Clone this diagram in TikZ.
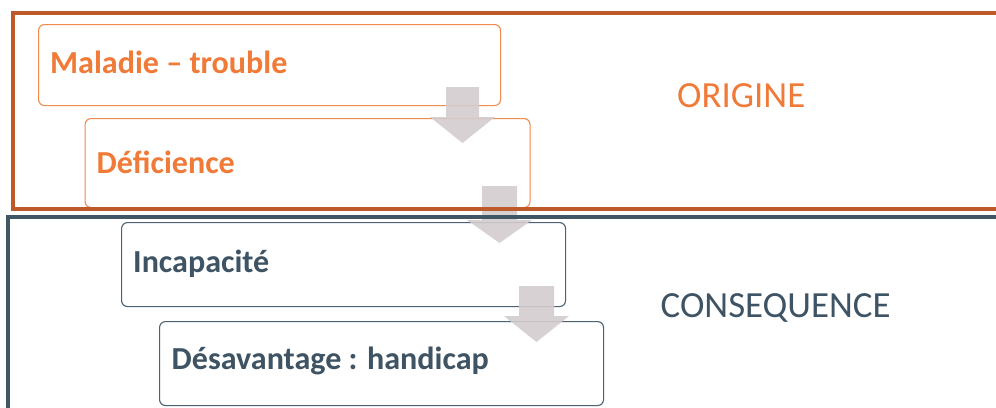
\documentclass[tikz,border=0pt]{standalone}
\usepackage{fontspec}
\setmainfont{Carlito}
\definecolor{orTxt}{HTML}{F07A37}
\definecolor{orBox}{HTML}{F08A4E}
\definecolor{orFrame}{HTML}{BE5A2A}
\definecolor{slTxt}{HTML}{3E5363}
\definecolor{slBox}{HTML}{4C6270}
\definecolor{slFrame}{HTML}{405664}
\definecolor{arr}{HTML}{D4CCCF}
\tikzset{
  stepbox/.style={draw, rounded corners=6bp, line width=1.1bp, inner sep=0pt, anchor=north west},
  orbox/.style={stepbox, draw=orBox},
  slbox/.style={stepbox, draw=slBox},
  steptext/.style={anchor=base west, inner sep=0pt, font=\bfseries\fontsize{32.2}{37}\selectfont},
  frametext/.style={anchor=base west, inner sep=0pt, font=\fontsize{37}{42}\selectfont},
  frameline/.style={line width=4bp},
  flowarrow/.style={fill=arr, fill opacity=0.9, draw=none}
}
\newcommand{\downarr}[6]{% cx, top, headY, tip, halfshaft, halfhead
  \fill[flowarrow] (#1-#5,#2) -- (#1+#5,#2) -- (#1+#5,#3) -- (#1+#6,#3) -- (#1,#4) -- (#1-#6,#3) -- (#1-#5,#3) -- cycle;}
\begin{document}
\begin{tikzpicture}[x=1bp,y=-1bp]
\useasboundingbox (0,0) rectangle (996,407);
\fill[white] (0,0) rectangle (996,407);
% boxes
\node[orbox, minimum width=462bp, minimum height=81bp] (b1) at (38,24) {};
\node[orbox, minimum width=445bp, minimum height=89bp] (b2) at (84.5,118) {};
\node[slbox, minimum width=444bp, minimum height=84bp] (b3) at (121,222) {};
\node[slbox, minimum width=444bp, minimum height=84bp] (b4) at (159,321) {};
% texts
\node[steptext, text=orTxt] (t1) at (50,73) {Maladie – trouble};
\node[steptext, text=orTxt] (t2) at (96.5,173.3) {Déficience};
\node[steptext, text=slTxt] (t3) at (133,272.7) {Incapacité};
\node[steptext, text=slTxt] (t4) at (171.5,369.3) {Désavantage : handicap};
% arrows
\downarr{462.5}{87}{117}{143}{16.5}{32.5}
\downarr{499.5}{186}{220}{243}{17.5}{32.5}
\downarr{536.5}{286}{316}{342}{17.5}{32.5}
% frames
\draw[frameline, draw=orFrame] (1010,13) -- (13,13) -- (13,209) -- (1010,209);
\draw[frameline, draw=slFrame] (1010,216.5) -- (8,216.5) -- (8,420);
\node[frametext, text=orTxt] (o) at (677,107.7) {ORIGINE};
\node[frametext, text=slTxt] (c) at (660.5,317.7) {CONSEQUENCE};
\end{tikzpicture}
\end{document}
